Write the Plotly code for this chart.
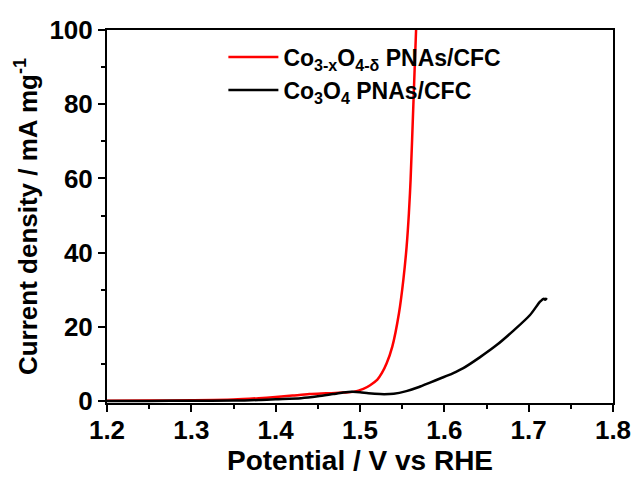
import plotly.graph_objects as go

red_x = [1.20, 1.25, 1.30, 1.35, 1.38, 1.40, 1.42, 1.44, 1.46, 1.48, 1.492, 1.504, 1.512, 1.5206,
         1.526, 1.5316, 1.5383, 1.5462, 1.5514, 1.5553, 1.558, 1.560, 1.5633, 1.5665, 1.568]
red_y = [0.1, 0.15, 0.25, 0.45, 0.8, 1.1, 1.5, 1.9, 2.1, 2.3, 2.5, 3.3, 4.3, 5.8,
         7.6, 10.2, 14.7, 23.7, 32.7, 41.7, 50.7, 59.7, 80, 100, 108]

black_x = [1.20, 1.25, 1.30, 1.35, 1.38, 1.40, 1.43, 1.45, 1.468, 1.48, 1.49, 1.50, 1.51, 1.524,
           1.54, 1.555, 1.57, 1.583, 1.595, 1.61, 1.6225, 1.642, 1.662, 1.682, 1.7016, 1.7135, 1.718,
           1.7195, 1.7215]
black_y = [0.05, 0.05, 0.1, 0.15, 0.3, 0.5, 0.8, 1.3, 1.9, 2.3, 2.5, 2.4, 2.1, 1.9,
           2.0, 2.7, 3.8, 5.0, 6.1, 7.5, 8.9, 11.8, 15.1, 19, 23.2, 26.8, 27.6,
           27.3, 27.8]

red_name = "Co<sub>3-x</sub>O<sub>4-δ</sub> PNAs/CFC"
black_name = "Co<sub>3</sub>O<sub>4</sub> PNAs/CFC"

FONT = "Arial, Liberation Sans, sans-serif"

fig = go.Figure()
fig.add_trace(go.Scatter(x=red_x, y=red_y, mode="lines", name=red_name,
                         line=dict(color="#ff0000", width=2.5, shape="spline", smoothing=0.8)))
fig.add_trace(go.Scatter(x=black_x, y=black_y, mode="lines", name=black_name,
                         line=dict(color="#000000", width=2.5, shape="spline", smoothing=0.8)))

axis_common = dict(
    showline=True, linecolor="black", linewidth=2, mirror=True,
    ticks="outside", ticklen=7, tickwidth=2, tickcolor="black",
    showgrid=False, zeroline=False, automargin=False,
    tickfont=dict(family=FONT, size=26, color="black", weight="bold"),
)

fig.update_xaxes(range=[1.2, 1.8], dtick=0.1, tickformat=".1f", ticklabelstandoff=-4,
                 minor=dict(ticks="outside", ticklen=4, tickwidth=2, dtick=0.05, tickcolor="black"),
                 title=dict(text="Potential / V vs RHE", font=dict(family=FONT, size=28, color="black", weight="bold"),
                            standoff=2),
                 **axis_common)
fig.update_yaxes(range=[-0.5, 100], dtick=20,
                 minor=dict(ticks="outside", ticklen=4, tickwidth=2, dtick=10, tickcolor="black"),
                 title=dict(text="Current density / mA mg<sup>-1</sup>",
                            font=dict(family=FONT, size=26, color="black", weight="bold"), standoff=4),
                 **axis_common)

fig.update_layout(
    width=638, height=481,
    margin=dict(l=107, r=25, t=30, b=78),
    plot_bgcolor="white", paper_bgcolor="white",
    legend=dict(x=0.23, y=0.985, xanchor="left", yanchor="top",
                bgcolor="rgba(0,0,0,0)", borderwidth=0,
                font=dict(family=FONT, size=23, color="black", weight="bold"),
                itemwidth=50, tracegroupgap=0),
    showlegend=True,
)

fig.write_html("out.html", config={"displayModeBar": False},
               post_script="document.body.style.margin='0';document.body.style.padding='0';")
